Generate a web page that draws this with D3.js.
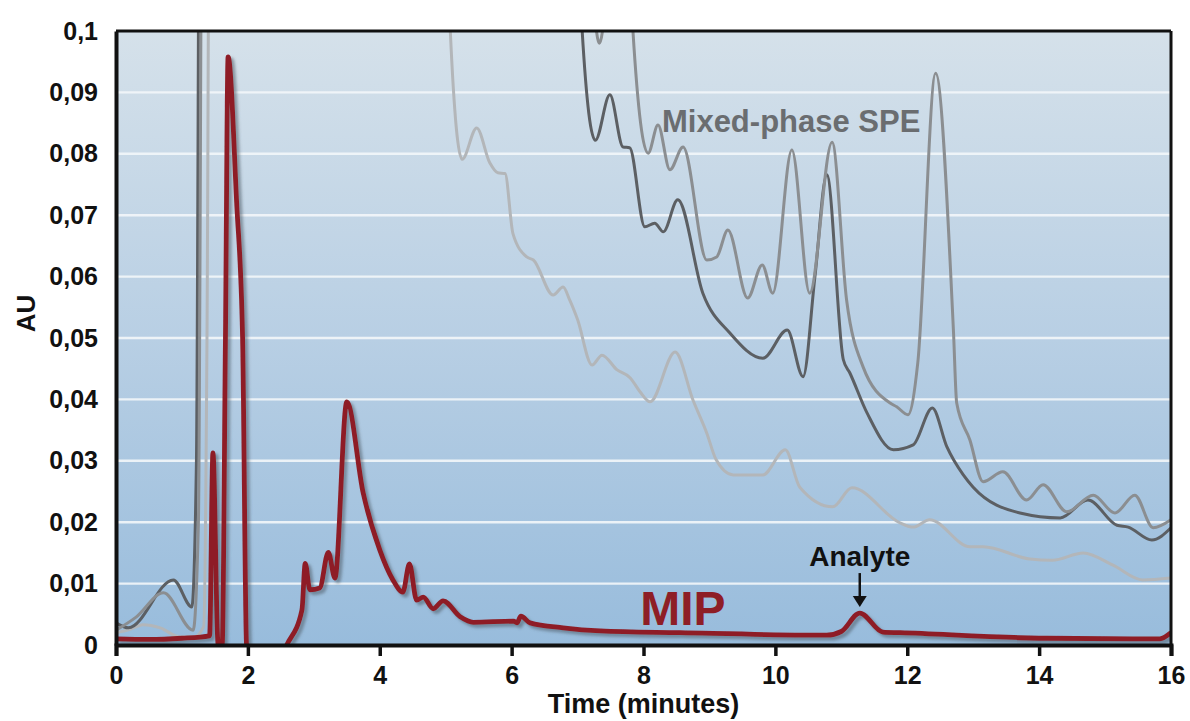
<!DOCTYPE html>
<html>
<head>
<meta charset="utf-8">
<script src="https://cdn.jsdelivr.net/npm/d3@7"></script>
<style>
  body { margin: 0; background: #fff; }
  svg { display: block; }
  text { font-family: "Liberation Sans", Arial, sans-serif; font-weight: bold; }
</style>
</head>
<body>
<div id="chart"></div>
<script>
// time (min), absorbance (AU) pairs
const mip = [[0,0.001],[0.5,0.0009],[1.0,0.0011],[1.42,0.0015],[1.47,0.0313],[1.55,0.0],[1.61,0.0],[1.66,0.05],[1.70,0.0958],
  [1.83,0.072],[1.92,0.05],[1.98,0.0],[2.05,-0.004],[2.3,-0.006],[2.59,0.0],[2.82,0.0057],[2.87,0.0133],[2.94,0.009],[3.09,0.0093],
  [3.22,0.0151],[3.32,0.0109],[3.50,0.0396],[3.75,0.0247],[4.0,0.0155],[4.2,0.0106],[4.35,0.0086],[4.45,0.0132],[4.56,0.0073],
  [4.66,0.0078],[4.81,0.0059],[4.96,0.0072],[5.22,0.0046],[5.42,0.0037],[6.03,0.0039],[6.08,0.0036],[6.14,0.0047],[6.28,0.0036],
  [6.78,0.0028],[7.34,0.0023],[8.55,0.002],[10.78,0.0016],[11.0,0.0022],[11.28,0.0052],[11.63,0.0021],[11.89,0.002],
  [14.12,0.0011],[15.83,0.001],[16,0.002]];

const speLight = [[0,0.002],[0.2,0.0025],[0.41,0.0033],[0.67,0.0028],[0.97,0.0013],[1.18,0.0013],[1.33,0.003],[1.38,0.05],[1.43,0.16],
  [4.9,0.16],[5.07,0.1],[5.25,0.0791],[5.47,0.0842],[5.67,0.0785],[5.79,0.0769],[5.90,0.0768],[6.02,0.067],[6.23,0.0632],
  [6.33,0.0627],[6.63,0.057],[6.78,0.0583],[6.88,0.0562],[7.0,0.053],[7.22,0.0456],[7.37,0.0472],[7.6,0.0448],[7.8,0.0435],
  [7.95,0.0412],[8.1,0.0396],[8.48,0.0477],[8.75,0.0399],[8.96,0.0345],[9.1,0.0302],[9.36,0.0277],[9.81,0.0277],[10.15,0.0318],
  [10.37,0.0257],[10.87,0.0225],[11.16,0.0256],[11.89,0.0199],[12.09,0.0192],[12.34,0.0204],[12.95,0.016],[13.15,0.016],
  [13.86,0.014],[14.2,0.0138],[14.67,0.015],[15.12,0.013],[15.57,0.0106],[16,0.0109]];

const speMid = [[0,0.0024],[0.3,0.0045],[0.72,0.0085],[1.17,0.0024],[1.25,0.02],[1.32,0.16],
  [7.1,0.16],[7.25,0.105],[7.33,0.098],[7.42,0.105],[7.6,0.16],[7.75,0.12],[7.84,0.1],[8.07,0.0801],
  [8.22,0.0847],[8.4,0.0774],[8.6,0.0811],[8.96,0.0627],[9.11,0.0632],[9.28,0.0676],[9.58,0.0565],[9.8,0.0619],[9.96,0.0573],
  [10.25,0.0806],[10.52,0.0573],[10.86,0.0819],[11.08,0.0562],[11.33,0.0453],[11.74,0.0394],[11.84,0.0388],[12.01,0.0375],
  [12.16,0.046],[12.43,0.0931],[12.7,0.0513],[12.75,0.0394],[12.95,0.0334],[13.15,0.0266],[13.45,0.0282],[13.81,0.0236],
  [14.06,0.0261],[14.42,0.0217],[14.82,0.0244],[15.15,0.0215],[15.45,0.0244],[15.73,0.0191],[16,0.0204]];

const speDark = [[0,0.0036],[0.19,0.0028],[0.87,0.0106],[1.15,0.0062],[1.22,0.03],[1.28,0.16],[6.9,0.16],[7.07,0.1],[7.27,0.0822],
  [7.49,0.0896],[7.69,0.0811],[7.79,0.081],[8.02,0.0681],[8.17,0.0687],[8.3,0.0673],[8.52,0.0725],[8.9,0.0573],[9.31,0.0508],
  [9.81,0.0467],[10.18,0.0513],[10.42,0.0437],[10.6,0.06],[10.78,0.0766],[11.03,0.0465],[11.13,0.0443],[11.39,0.0378],
  [11.79,0.0318],[12.09,0.0326],[12.38,0.0386],[12.6,0.0323],[12.85,0.0277],[13.0,0.0257],[13.71,0.0215],[14.32,0.0207],
  [14.74,0.0236],[15.18,0.0195],[15.35,0.0192],[15.71,0.0171],[16,0.0191]];

const xTicks = [0, 2, 4, 6, 8, 10, 12, 14, 16];
const yTicks = [0, 0.01, 0.02, 0.03, 0.04, 0.05, 0.06, 0.07, 0.08, 0.09, 0.1];
const analytePeak = [11.28, 0.0052];

const W = 1190, H = 721;
const margin = {top: 31, right: 19, bottom: 76, left: 116};
const width = W - margin.left - margin.right;
const height = H - margin.top - margin.bottom;

const svg = d3.select("#chart").append("svg").attr("width", W).attr("height", H);
const defs = svg.append("defs");

const grad = defs.append("linearGradient").attr("id", "bg")
  .attr("x1", 0).attr("y1", 0).attr("x2", 0).attr("y2", 1);
grad.append("stop").attr("offset", "0%").attr("stop-color", "#d5e1ea");
grad.append("stop").attr("offset", "50%").attr("stop-color", "#b8cfe4");
grad.append("stop").attr("offset", "100%").attr("stop-color", "#98bcdc");

defs.append("clipPath").attr("id", "clip")
  .append("rect").attr("width", width).attr("height", height);

const shadow = defs.append("filter").attr("id", "shadow")
  .attr("x", "-10%").attr("y", "-10%").attr("width", "120%").attr("height", "120%");
shadow.append("feDropShadow").attr("dx", 3).attr("dy", 3).attr("stdDeviation", 1.5)
  .attr("flood-color", "#4d5864").attr("flood-opacity", 0.55);

const g = svg.append("g").attr("transform", `translate(${margin.left},${margin.top})`);

const x = d3.scaleLinear().domain([0, 16]).range([0, width]);
const y = d3.scaleLinear().domain([0, 0.1]).range([height, 0]);

g.append("rect").attr("width", width).attr("height", height).attr("fill", "url(#bg)");

// white gridlines
g.selectAll(".grid").data(yTicks.filter(d => d > 0 && d < 0.1)).enter()
  .append("line").attr("class", "grid")
  .attr("x1", 0).attr("x2", width)
  .attr("y1", d => y(d)).attr("y2", d => y(d))
  .attr("stroke", "#f3f7fa").attr("stroke-width", 2.4).attr("opacity", 0.9);

const line = d3.line().x(d => x(d[0])).y(d => y(d[1])).curve(d3.curveMonotoneX);

const traces = g.append("g").attr("clip-path", "url(#clip)");
traces.append("path").datum(speLight).attr("d", line)
  .attr("fill", "none").attr("stroke", "#b3b6b9").attr("stroke-width", 3);
traces.append("path").datum(speDark).attr("d", line)
  .attr("fill", "none").attr("stroke", "#5c5f63").attr("stroke-width", 3);
traces.append("path").datum(speMid).attr("d", line)
  .attr("fill", "none").attr("stroke", "#8b8e91").attr("stroke-width", 3);
traces.append("path").datum(mip).attr("d", line)
  .attr("fill", "none").attr("stroke", "#8e1e26").attr("stroke-width", 4.8)
  .attr("stroke-linejoin", "round").attr("filter", "url(#shadow)");

// frame
g.append("line").attr("x1", 0).attr("x2", width).attr("y1", 0).attr("y2", 0)
  .attr("stroke", "#111").attr("stroke-width", 3);
g.append("line").attr("x1", width).attr("x2", width).attr("y1", 0).attr("y2", height)
  .attr("stroke", "#111").attr("stroke-width", 3);

const comma = d3.formatLocale({decimal: ",", thousands: ".", grouping: [3], currency: ["", ""]}).format(".2~f");

const yAxis = g.append("g").call(d3.axisLeft(y).tickValues(yTicks).tickSize(0).tickPadding(18).tickFormat(comma));
yAxis.select(".domain").attr("stroke", "#111").attr("stroke-width", 4);
yAxis.selectAll("text").attr("font-size", 25).attr("fill", "#111")
  .style("font-family", "'Liberation Sans', Arial, sans-serif").style("font-weight", "bold");

const xAxis = g.append("g").attr("transform", `translate(0,${height})`)
  .call(d3.axisBottom(x).tickValues(xTicks).tickSize(11).tickPadding(10).tickFormat(d3.format("d")));
xAxis.select(".domain").attr("stroke", "#111").attr("stroke-width", 4);
xAxis.selectAll(".tick line").attr("stroke", "#111").attr("stroke-width", 3.5);
xAxis.selectAll("text").attr("font-size", 25).attr("fill", "#111")
  .style("font-family", "'Liberation Sans', Arial, sans-serif").style("font-weight", "bold");

svg.append("text").attr("transform", `translate(35,${margin.top + y(0.054)}) rotate(-90)`)
  .attr("text-anchor", "middle").attr("font-size", 26).attr("fill", "#111").text("AU");

svg.append("text").attr("x", margin.left + x(8)).attr("y", 713)
  .attr("text-anchor", "middle").attr("font-size", 27).attr("fill", "#111").text("Time (minutes)");

// annotations
g.append("text").attr("x", x(8.28)).attr("y", y(0.0847) + 7)
  .attr("font-size", 31).attr("fill", "#6a6d70").text("Mixed-phase SPE");

g.append("text").attr("x", x(7.95)).attr("y", y(0.0033))
  .attr("font-size", 48).attr("fill", "#8e1e26").text("MIP");

const ax = x(analytePeak[0]), ay = y(analytePeak[1]);
g.append("text").attr("x", ax).attr("y", ay - 47)
  .attr("text-anchor", "middle").attr("font-size", 28).attr("fill", "#111").text("Analyte");
g.append("line").attr("x1", ax).attr("x2", ax).attr("y1", ay - 40).attr("y2", ay - 14)
  .attr("stroke", "#111").attr("stroke-width", 2.5);
g.append("path").attr("d", `M${ax - 7},${ay - 17}L${ax + 7},${ay - 17}L${ax},${ay - 6}Z`).attr("fill", "#111");
</script>
</body>
</html>
